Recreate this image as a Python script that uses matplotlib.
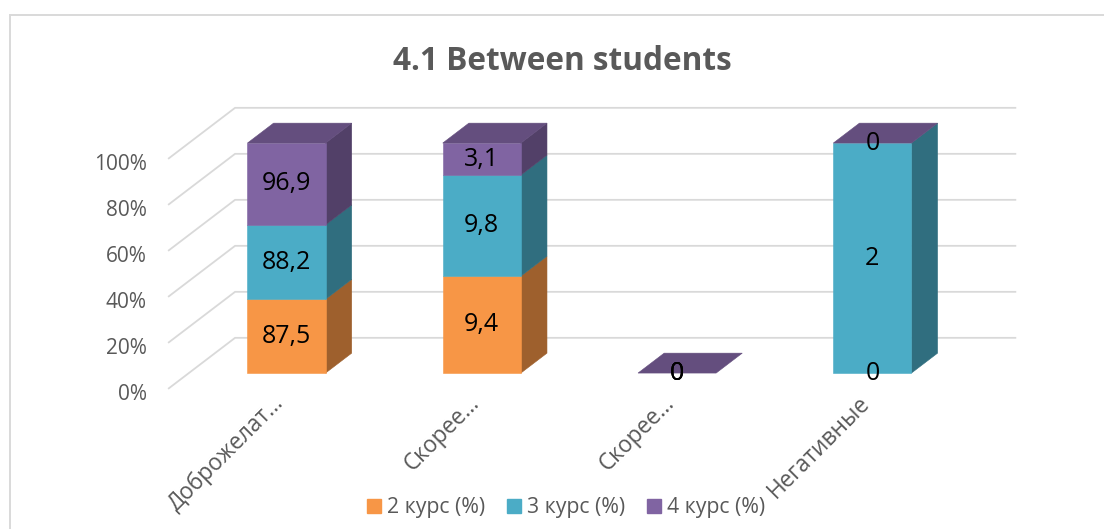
import matplotlib

matplotlib.use("Agg")
import matplotlib.pyplot as plt  # noqa: E402
from matplotlib.patches import Patch, Rectangle  # noqa: E402
import numpy as np  # noqa: E402

plt.rcParams["font.family"] = ["Open Sans", "DejaVu Sans"]

# --- data -------------------------------------------------------------
categories = ["Доброжелат…", "Скорее…", "Скорее…", "Негативные"]
series_names = ["2 курс (%)", "3 курс (%)", "4 курс (%)"]
kurs2 = [87.5, 9.4, 0, 0]
kurs3 = [88.2, 9.8, 0, 2]
kurs4 = [96.9, 3.1, 0, 0]
y_ticks = [0, 20, 40, 60, 80, 100]

FRONT = ["#F79646", "#4BACC6", "#8064A2"]
GRID = "#D9D9D9"
TEXT = "#595959"

# --- pseudo-3D geometry (oblique projection) --------------------------
DX, DY = 0.343, 22.2          # shift per unit of depth (category units, %)
Z_FLOOR, Z_BAR, Z_WALL = -0.31, 0.39, 0.69
HALF_W = 0.2
X_MIN, X_MAX = -0.5, 3.5


def shade(hex_color, k):
    rgb = np.array(matplotlib.colors.to_rgb(hex_color))
    return tuple(rgb * k)


def proj(x, y, z):
    return x + DX * z, y + DY * z


def face(ax, pts, color, zorder):
    xs, ys = zip(*pts)
    ax.fill(xs, ys, color=color, lw=0.4, ec=color, zorder=zorder)


def fmt(v):
    return f"{v:g}".replace(".", ",")


W, H = 1104, 529
fig = plt.figure(figsize=(W / 100, H / 100), dpi=100)
ax = fig.add_axes([0, 0, 1, 1])
ax.set_xlim(-1.467, 4.186)
ax.set_ylim(-67.8, 162.2)
ax.axis("off")

# walls: gridlines on the floor side and back wall
for v in y_ticks:
    pts = [proj(X_MIN, v, Z_FLOOR), proj(X_MIN, v, Z_WALL), proj(X_MAX, v, Z_WALL)]
    xs, ys = zip(*pts)
    ax.plot(xs, ys, color=GRID, lw=1.3, zorder=1, solid_capstyle="butt")
    lx, ly = proj(X_MIN, v, Z_FLOOR)
    ax.text(lx - 0.11, ly - 2.5, f"{v}%", ha="right", va="center",
            fontsize=15, color=TEXT)

# stacked 100% bars
data = np.array([kurs2, kurs3, kurs4], dtype=float)
totals = data.sum(axis=0)
for i in range(len(categories)):
    shares = data[:, i] / totals[i] * 100 if totals[i] > 0 else np.zeros(3)
    bottom = 0.0
    for j, h in enumerate(shares):
        if h > 0:
            x0, x1 = i - HALF_W, i + HALF_W
            face(ax, [(x0, bottom), (x1, bottom), (x1, bottom + h), (x0, bottom + h)],
                 FRONT[j], 3)
            face(ax, [proj(x1, bottom, 0), proj(x1, bottom, Z_BAR),
                      proj(x1, bottom + h, Z_BAR), proj(x1, bottom + h, 0)],
                 shade(FRONT[j], 0.64), 2)
        ax.text(i, bottom + h / 2, fmt(data[j, i]), ha="center", va="center",
                fontsize=18, color="black", zorder=6)
        bottom += h
    top = bottom
    x0, x1 = i - HALF_W, i + HALF_W
    face(ax, [proj(x0, top, 0), proj(x1, top, 0), proj(x1, top, Z_BAR),
              proj(x0, top, Z_BAR)], shade(FRONT[2], 0.78), 4)

# category labels along the floor edge
for i, name in enumerate(categories):
    ax.text(i - 0.03, -11.5, name, rotation=45, rotation_mode="anchor",
            ha="right", va="center", fontsize=16.3, color=TEXT, zorder=7)

ax.legend(
    handles=[Patch(color=c, label=n) for c, n in zip(FRONT, series_names)],
    loc="center", bbox_to_anchor=(566 / W, 1 - 508 / H),
    bbox_transform=fig.transFigure, ncol=3, frameon=False,
    fontsize=15.3, labelcolor=TEXT, handlelength=0.66, handleheight=0.66,
    handletextpad=0.3, columnspacing=1.0, borderaxespad=0,
)

fig.text(562 / W, 1 - 61 / H, "4.1 Between students", ha="center", va="center",
         fontsize=22.7, fontweight="bold", color=TEXT)

# chart frame (runs past the right and bottom edges)
fig.add_artist(Rectangle((10 / W, -0.5), 2, 1.5 - 15 / H, transform=fig.transFigure,
                         fill=False, ec=GRID, lw=1.4))

fig.savefig("out.png", dpi=100)
plt.close(fig)
